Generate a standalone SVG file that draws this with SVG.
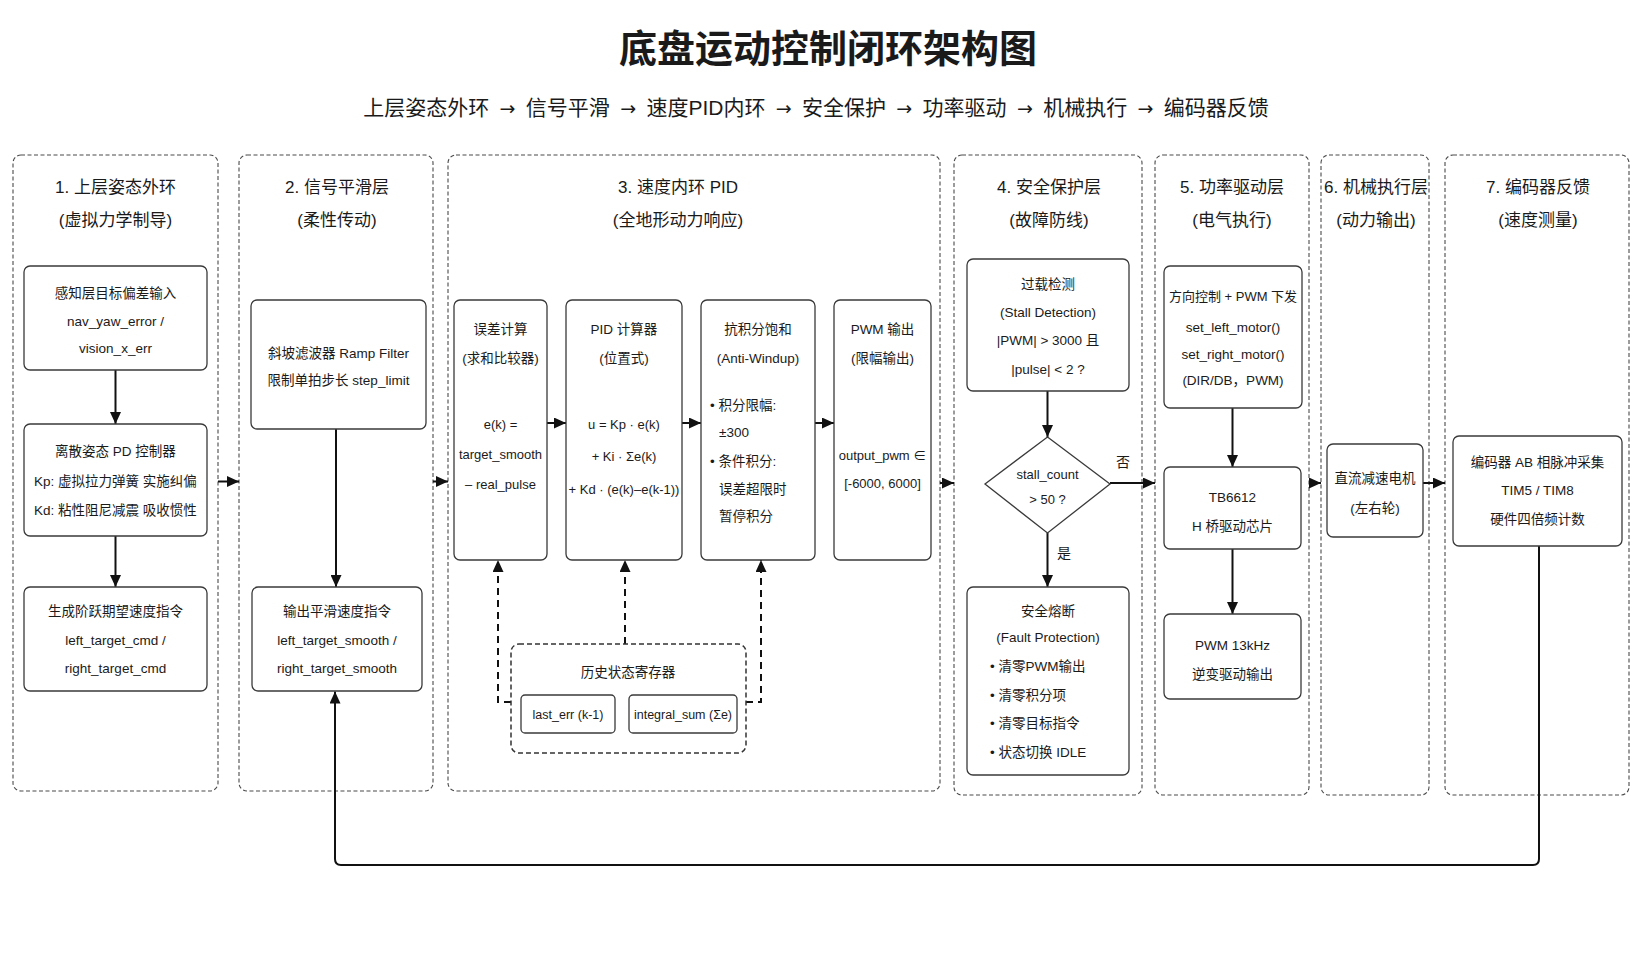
<svg xmlns="http://www.w3.org/2000/svg" width="1647" height="955" viewBox="0 0 1647 955">
<style>
text{font-family:"Liberation Sans","Noto Sans CJK SC",sans-serif;fill:#1a1a1a;}
.title{font-size:38px;font-weight:bold;text-anchor:middle;}
.sub{font-size:21px;text-anchor:middle;word-spacing:4.5px;}
.ar{font-family:"DejaVu Sans",sans-serif;font-size:19px;}
.lt{font-size:17px;text-anchor:middle;}
.t{font-size:13.5px;text-anchor:middle;}
.ts{font-size:13px;text-anchor:middle;}
.tl{font-size:13.5px;text-anchor:start;}
.th{font-size:12.5px;text-anchor:middle;}
.lane{fill:none;stroke:#4a4a4a;stroke-width:1.1;stroke-dasharray:4 2.5;}
.box{fill:#fff;stroke:#3a3a3a;stroke-width:1.3;}
.hist{fill:#fff;stroke:#333;stroke-width:1.5;stroke-dasharray:5 3;}
.c{fill:none;stroke:#111;stroke-width:2;marker-end:url(#ah);}
.cd{fill:none;stroke:#111;stroke-width:2;stroke-dasharray:7 5;marker-end:url(#ah);}
</style>
<defs>
<marker id="ah" markerUnits="userSpaceOnUse" markerWidth="12" markerHeight="11" refX="12" refY="5.5" orient="auto">
<path d="M0,0 L12,5.5 L0,11 z" fill="#111"/>
</marker>
</defs>
<rect width="1647" height="955" fill="#fff"/>
<text class="title" x="828" y="62">底盘运动控制闭环架构图</text>
<text class="sub" x="816" y="115">上层姿态外环 <tspan class="ar">→</tspan> 信号平滑 <tspan class="ar">→</tspan> 速度PID内环 <tspan class="ar">→</tspan> 安全保护 <tspan class="ar">→</tspan> 功率驱动 <tspan class="ar">→</tspan> 机械执行 <tspan class="ar">→</tspan> 编码器反馈</text>

<g id="lane1">
<rect class="lane" x="13" y="155" width="205" height="636" rx="8"/>
<text class="lt" x="115.5" y="193">1. 上层姿态外环</text>
<text class="lt" x="115.5" y="226">(虚拟力学制导)</text>
</g>
<g id="lane2">
<rect class="lane" x="239" y="155" width="194" height="636" rx="8"/>
<text class="lt" x="337" y="193">2. 信号平滑层</text>
<text class="lt" x="337" y="226">(柔性传动)</text>
</g>
<g id="lane3">
<rect class="lane" x="448" y="155" width="492" height="636" rx="8"/>
<text class="lt" x="678" y="193">3. 速度内环 PID</text>
<text class="lt" x="678" y="226">(全地形动力响应)</text>
</g>
<g id="lane4">
<rect class="lane" x="954" y="155" width="188" height="640" rx="8"/>
<text class="lt" x="1049" y="193">4. 安全保护层</text>
<text class="lt" x="1049" y="226">(故障防线)</text>
</g>
<g id="lane5">
<rect class="lane" x="1155" y="155" width="154" height="640" rx="8"/>
<text class="lt" x="1232" y="193">5. 功率驱动层</text>
<text class="lt" x="1232" y="226">(电气执行)</text>
</g>
<g id="lane6">
<rect class="lane" x="1321" y="155" width="108" height="640" rx="8"/>
<text class="lt" x="1376" y="193">6. 机械执行层</text>
<text class="lt" x="1376" y="226">(动力输出)</text>
</g>
<g id="lane7">
<rect class="lane" x="1445" y="155" width="184" height="640" rx="8"/>
<text class="lt" x="1538" y="193">7. 编码器反馈</text>
<text class="lt" x="1538" y="226">(速度测量)</text>
</g>

<g id="connectors">
<path class="c" d="M115.5,370 V424"/>
<path class="c" d="M115.5,536 V587"/>
<path class="c" d="M218,481.5 H239"/>
<path class="c" d="M336,429 V587"/>
<path class="c" d="M433,481.5 H448"/>
<path class="c" d="M547,423 H566"/>
<path class="c" d="M682,423 H701"/>
<path class="c" d="M815,423 H834"/>
<path class="c" d="M940,483 H954"/>
<path class="cd" d="M511,702 H498 V560"/>
<path class="cd" d="M625,644 V560"/>
<path class="cd" d="M746,702 H761 V560"/>
<path class="c" d="M1047.5,391 V437"/>
<path class="c" d="M1110,483 H1155"/>
<path class="c" d="M1047.5,533 V587"/>
<path class="c" d="M1232.5,408 V467"/>
<path class="c" d="M1232.5,549 V614"/>
<path class="c" d="M1309,483 H1321"/>
<path class="c" d="M1423,483 H1445"/>
<path class="c" d="M1539,546 V859 Q1539,865 1533,865 H341 Q335,865 335,859 V691.5"/>
<text class="t" x="1123" y="467" style="font-size:14px">否</text>
<text class="t" x="1064" y="558" style="font-size:14px">是</text>
</g>

<g id="n_input">
<rect class="box" x="24" y="266" width="183" height="104" rx="6"/>
<text class="t" x="115.5" y="298">感知层目标偏差输入</text>
<text class="t" x="115.5" y="326">nav_yaw_error /</text>
<text class="t" x="115.5" y="352.5">vision_x_err</text>
</g>
<g id="n_pd">
<rect class="box" x="24" y="424" width="183" height="112" rx="6"/>
<text class="t" x="115.5" y="456">离散姿态 PD 控制器</text>
<text class="t" x="115.5" y="486">Kp: 虚拟拉力弹簧 实施纠偏</text>
<text class="t" x="115.5" y="514.5">Kd: 粘性阻尼减震 吸收惯性</text>
</g>
<g id="n_cmd">
<rect class="box" x="24" y="587" width="183" height="104" rx="6"/>
<text class="t" x="115.5" y="616">生成阶跃期望速度指令</text>
<text class="t" x="115.5" y="645">left_target_cmd /</text>
<text class="t" x="115.5" y="673">right_target_cmd</text>
</g>
<g id="n_ramp">
<rect class="box" x="251" y="300" width="175" height="129" rx="6"/>
<text class="t" x="338.5" y="357.5">斜坡滤波器 Ramp Filter</text>
<text class="t" x="338.5" y="385">限制单拍步长 step_limit</text>
</g>
<g id="n_smooth">
<rect class="box" x="252" y="587" width="170" height="104" rx="6"/>
<text class="t" x="337" y="616">输出平滑速度指令</text>
<text class="t" x="337" y="645">left_target_smooth /</text>
<text class="t" x="337" y="673">right_target_smooth</text>
</g>
<g id="n_err">
<rect class="box" x="454" y="300" width="93" height="260" rx="6"/>
<text class="t" x="500.5" y="333.5">误差计算</text>
<text class="t" x="500.5" y="362.5">(求和比较器)</text>
<text class="ts" x="500.5" y="428.5">e(k) =</text>
<text class="ts" x="500.5" y="458.5">target_smooth</text>
<text class="ts" x="500.5" y="488.5">– real_pulse</text>
</g>
<g id="n_pid">
<rect class="box" x="566" y="300" width="116" height="260" rx="6"/>
<text class="t" x="624" y="333.5">PID 计算器</text>
<text class="t" x="624" y="362.5">(位置式)</text>
<text class="ts" x="624" y="428.5">u = Kp · e(k)</text>
<text class="ts" x="624" y="461">+ Ki · Σe(k)</text>
<text class="ts" x="624" y="493.5">+ Kd · (e(k)–e(k-1))</text>
</g>
<g id="n_aw">
<rect class="box" x="701" y="300" width="114" height="260" rx="6"/>
<text class="t" x="758" y="333.5">抗积分饱和</text>
<text class="t" x="758" y="362.5">(Anti-Windup)</text>
<text class="tl" x="710" y="410">• 积分限幅:</text>
<text class="tl" x="719" y="437">±300</text>
<text class="tl" x="710" y="466">• 条件积分:</text>
<text class="tl" x="719" y="493.5">误差超限时</text>
<text class="tl" x="719" y="521">暂停积分</text>
</g>
<g id="n_pwm">
<rect class="box" x="834" y="300" width="97" height="260" rx="6"/>
<text class="t" x="882.5" y="333.5">PWM 输出</text>
<text class="t" x="882.5" y="362.5">(限幅输出)</text>
<text class="ts" x="882.5" y="460">output_pwm ∈</text>
<text class="ts" x="882.5" y="488">[-6000, 6000]</text>
</g>
<g id="n_hist">
<rect class="hist" x="511" y="644" width="235" height="109" rx="8"/>
<text class="t" x="628" y="677">历史状态寄存器</text>
<rect class="box" x="521" y="695" width="94" height="38" rx="4"/>
<text class="th" x="568" y="718.5">last_err (k-1)</text>
<rect class="box" x="629" y="695" width="108" height="38" rx="4"/>
<text class="th" x="683" y="718.5">integral_sum (Σe)</text>
</g>
<g id="n_stall">
<rect class="box" x="967" y="259" width="162" height="132" rx="6"/>
<text class="t" x="1048" y="289">过载检测</text>
<text class="t" x="1048" y="317">(Stall Detection)</text>
<text class="t" x="1048" y="345">|PWM| &gt; 3000 且</text>
<text class="t" x="1048" y="373.5">|pulse| &lt; 2 ?</text>
</g>
<g id="n_dec">
<polygon class="box" points="1047.5,437 1110,484 1047.5,533 985,484"/>
<text class="ts" x="1047.5" y="479">stall_count</text>
<text class="ts" x="1047.5" y="504">&gt; 50 ?</text>
</g>
<g id="n_fault">
<rect class="box" x="967" y="587" width="162" height="188" rx="6"/>
<text class="t" x="1048" y="616">安全熔断</text>
<text class="t" x="1048" y="642">(Fault Protection)</text>
<text class="tl" x="990" y="671">• 清零PWM输出</text>
<text class="tl" x="990" y="699.5">• 清零积分项</text>
<text class="tl" x="990" y="728">• 清零目标指令</text>
<text class="tl" x="990" y="757">• 状态切换 IDLE</text>
</g>
<g id="n_dir">
<rect class="box" x="1164" y="266" width="138" height="142" rx="6"/>
<text class="ts" x="1233" y="301">方向控制 + PWM 下发</text>
<text class="t" x="1233" y="332">set_left_motor()</text>
<text class="t" x="1233" y="359">set_right_motor()</text>
<text class="t" x="1233" y="385">(DIR/DB，PWM)</text>
</g>
<g id="n_tb">
<rect class="box" x="1164" y="467" width="137" height="82" rx="6"/>
<text class="t" x="1232.5" y="502">TB6612</text>
<text class="t" x="1232.5" y="531">H 桥驱动芯片</text>
</g>
<g id="n_out">
<rect class="box" x="1164" y="614" width="137" height="85" rx="6"/>
<text class="t" x="1232.5" y="650">PWM 13kHz</text>
<text class="t" x="1232.5" y="679">逆变驱动输出</text>
</g>
<g id="n_motor">
<rect class="box" x="1327" y="444" width="96" height="93" rx="6"/>
<text class="t" x="1375" y="483">直流减速电机</text>
<text class="t" x="1375" y="513">(左右轮)</text>
</g>
<g id="n_enc">
<rect class="box" x="1453" y="436" width="169" height="110" rx="6"/>
<text class="t" x="1537.5" y="467">编码器 AB 相脉冲采集</text>
<text class="t" x="1537.5" y="495">TIM5 / TIM8</text>
<text class="t" x="1537.5" y="524">硬件四倍频计数</text>
</g>
</svg>
